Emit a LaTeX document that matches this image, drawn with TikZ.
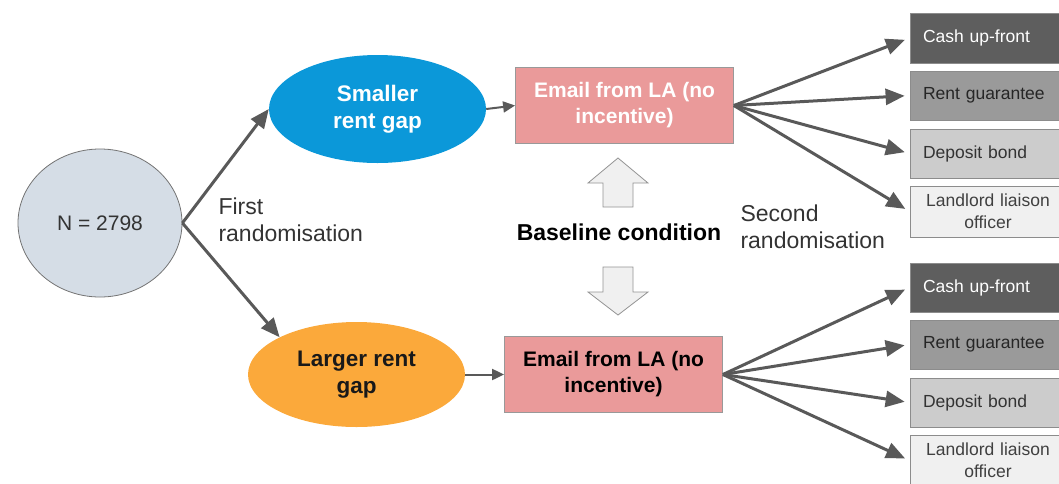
\documentclass[tikz,border=0pt]{standalone}
\usepackage{fontspec}
\setmainfont{Liberation Sans}
\usetikzlibrary{shapes.geometric,arrows.meta}

\definecolor{arrowgray}{HTML}{595959}
\definecolor{popfill}{HTML}{D5DDE6}
\definecolor{smallblue}{HTML}{0B98D9}
\definecolor{largeorange}{HTML}{FBA93B}
\definecolor{emailpink}{HTML}{EA9A9A}
\definecolor{cashgray}{HTML}{5E5E5E}
\definecolor{rentgray}{HTML}{9A9A9A}
\definecolor{bondgray}{HTML}{CCCCCC}
\definecolor{liaisongray}{HTML}{F0F0F0}
\definecolor{textgray}{HTML}{333333}

\begin{document}
\begin{tikzpicture}[x=1pt,y=-1pt,
    bigtext/.style={font=\fontsize{21}{26}\selectfont},
    sidetext/.style={font=\fontsize{23}{27}\selectfont, text=textgray, align=left, anchor=west},
    group/.style={ellipse, draw=none, font=\fontsize{22.5}{27}\selectfont\bfseries,
        align=center, minimum width=217pt},
    email/.style={rectangle, draw=gray!80, fill=emailpink, line width=0.8pt,
        font=\fontsize{21}{26}\selectfont\bfseries, align=center,
        minimum width=218pt, minimum height=76pt},
    offer/.style={rectangle, draw=gray!90, line width=0.8pt,
        font=\fontsize{17.5}{22}\selectfont, align=left, text width=130pt,
        inner xsep=13pt, minimum height=49pt},
    split/.style={draw=arrowgray, line width=3pt, -{Triangle[length=19pt,width=16pt]}},
    feed/.style={draw=arrowgray, line width=2pt, -{Triangle[length=12pt,width=11pt]}},
    blockarrow/.style={draw=gray!85, fill=liaisongray, line width=0.8pt, line join=miter}]

    \useasboundingbox (0,0) rectangle (1059,483);

    % Draw the starting sample and the two rent gap groups
    \node[ellipse, draw=gray!90!black, fill=popfill, line width=0.8pt, bigtext, text=textgray,
        minimum width=164pt, minimum height=148pt] (pop) at (100,223) {N = 2798};
    \node[group, fill=smallblue, text=white, minimum height=108pt] (small) at (377.5,109) {Smaller\\rent gap};
    \node[group, fill=largeorange, text=black!90, minimum height=105pt] (large) at (356.5,374.5) {Larger rent\\gap};

    \draw[split] (pop.east) -- (small.west);
    \draw[split] (pop.east) -- (large.north west);
    \node[sidetext] (first) at (215,220) {First\\randomisation};

    % Draw the baseline emails
    \node[email, text=white] (emailtop) at (624.5,105.5) {Email from LA (no\\incentive)};
    \node[email, text=black] (emailbot) at (613.5,374.5) {Email from LA (no\\incentive)};

    \draw[feed] (small.east) -- (emailtop.west);
    \draw[feed] (large.east) -- (emailbot.west);

    \node[font=\fontsize{23}{27}\selectfont\bfseries] (baseline) at (619,232) {Baseline condition};
    \draw[blockarrow] (618,158) -- (648,183) -- (633,183) -- (633,207) -- (603,207) -- (603,183) -- (588,183) -- cycle;
    \draw[blockarrow] (603,267) -- (633,267) -- (633,292) -- (648,292) -- (618,315) -- (588,292) -- (603,292) -- cycle;

    \node[sidetext] (second) at (737,227) {Second\\randomisation};

    % Draw the incentive boxes for the smaller rent gap
    \node[offer, fill=cashgray, text=white, minimum height=50pt] (cashtop) at (988,38) {Cash up-front};
    \node[offer, fill=rentgray, text=black!85] (renttop) at (988,95.5) {Rent guarantee};
    \node[offer, fill=bondgray, text=black!80] (bondtop) at (988,153.5) {Deposit bond};
    \node[offer, fill=liaisongray, text=black!75, align=center, minimum height=51pt] (liaisontop) at (988,211.5) {Landlord liaison\\officer};

    % Draw the incentive boxes for the larger rent gap
    \node[offer, fill=cashgray, text=white] (cashbot) at (988,287.5) {Cash up-front};
    \node[offer, fill=rentgray, text=black!85] (rentbot) at (988,344.5) {Rent guarantee};
    \node[offer, fill=bondgray, text=black!80] (bondbot) at (988,402.5) {Deposit bond};
    \node[offer, fill=liaisongray, text=black!75, align=center, minimum height=51pt] (liaisonbot) at (988,460.5) {Landlord liaison\\officer};

    % Draw the second randomisation arrows
    \draw[split, shorten >=5pt] (emailtop.east) -- (cashtop.west);
    \draw[split, shorten >=5pt] (emailtop.east) -- (renttop.west);
    \draw[split, shorten >=5pt] (emailtop.east) -- (bondtop.west);
    \draw[split, shorten >=5pt] (emailtop.east) -- (liaisontop.west);

    \draw[split, shorten >=5pt] (emailbot.east) -- (cashbot.west);
    \draw[split, shorten >=5pt] (emailbot.east) -- (rentbot.west);
    \draw[split, shorten >=5pt] (emailbot.east) -- (bondbot.west);
    \draw[split, shorten >=5pt] (emailbot.east) -- (liaisonbot.west);

\end{tikzpicture}
\end{document}
